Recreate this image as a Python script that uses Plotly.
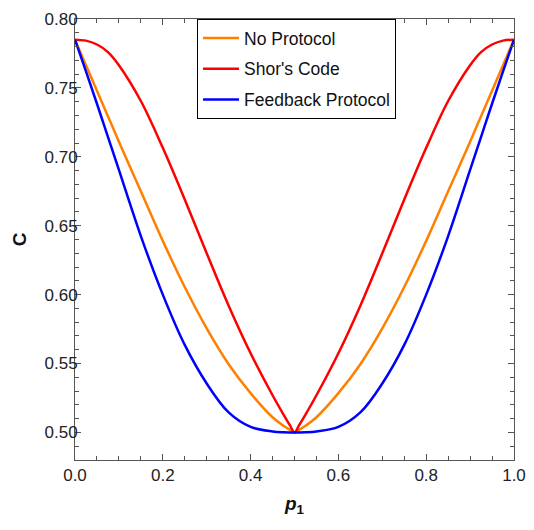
import plotly.graph_objects as go

p1 = [0, 0.025, 0.05, 0.075, 0.1, 0.15, 0.2, 0.25, 0.3, 0.35, 0.4, 0.45, 0.475, 0.49, 0.5,
      0.51, 0.525, 0.55, 0.6, 0.65, 0.7, 0.75, 0.8, 0.85, 0.9, 0.925, 0.95, 0.975, 1.0]

no_protocol = [0.785, 0.7665, 0.748, 0.7295, 0.711, 0.675, 0.639, 0.6055, 0.5755, 0.5495, 0.5285, 0.511, 0.5048, 0.5018, 0.500,
               0.5018, 0.5048, 0.511, 0.5285, 0.5495, 0.5755, 0.6055, 0.639, 0.675, 0.711, 0.7295, 0.748, 0.7665, 0.785]
shors_code = [0.785, 0.7843, 0.7815, 0.776, 0.7665, 0.7405, 0.7065, 0.669, 0.630, 0.592, 0.5575, 0.527, 0.513, 0.505, 0.500,
              0.505, 0.513, 0.527, 0.5575, 0.592, 0.630, 0.669, 0.7065, 0.7405, 0.7665, 0.776, 0.7815, 0.7843, 0.785]
feedback = [0.785, 0.762, 0.7385, 0.7145, 0.6905, 0.6425, 0.600, 0.5635, 0.5355, 0.5145, 0.504, 0.5007, 0.5001, 0.500, 0.500,
            0.500, 0.5001, 0.5007, 0.504, 0.5145, 0.5355, 0.5635, 0.600, 0.6425, 0.6905, 0.7145, 0.7385, 0.762, 0.785]

series = [
    ("No Protocol", no_protocol, "#FF8000"),
    ("Shor's Code", shors_code, "#FF0000"),
    ("Feedback Protocol", feedback, "#0000FF"),
]

x_ticks = [0.0, 0.2, 0.4, 0.6, 0.8, 1.0]
y_ticks = [0.50, 0.55, 0.60, 0.65, 0.70, 0.75, 0.80]

fig = go.Figure()
for name, vals, col in series:
    fig.add_trace(go.Scatter(
        x=p1, y=vals, name=name, mode="lines", legendgroup=name,
        line=dict(color=col, width=2.5, shape="spline", smoothing=1.0),
    ))

font_family = "Liberation Sans, Arial, sans-serif"
axis_common = dict(
    showline=True, linecolor="#555555", linewidth=1, mirror="allticks",
    ticks="inside", ticklen=6, tickcolor="#555555", tickwidth=1,
    showgrid=False, zeroline=False, ticklabeloverflow="allow", automargin=False,
    tickfont=dict(family=font_family, size=17, color="#222222"),
)

fig.update_layout(
    width=518, height=514,
    margin=dict(l=67, r=12, t=11, b=62),
    paper_bgcolor="white", plot_bgcolor="white",
    font=dict(family=font_family, color="#111111"),
    xaxis=dict(
        range=[0, 1], tickvals=x_ticks, tickformat=".1f",
        minor=dict(dtick=0.05, ticks="inside", ticklen=4, tickcolor="#555555"),
        title=dict(text="<b><i>p</i><sub>1</sub></b>", font=dict(size=19, family=font_family), standoff=12),
        **axis_common,
    ),
    yaxis=dict(
        range=[0.48, 0.80], tickvals=y_ticks, tickformat=".2f",
        minor=dict(dtick=0.01, ticks="inside", ticklen=4, tickcolor="#555555"),
        ticklabelstandoff=-7,
        title=dict(text="<b>C</b>", font=dict(size=19, family=font_family), standoff=12),
        **axis_common,
    ),
    legend=dict(
        x=0.278, y=1.0, xanchor="left", yanchor="top",
        bordercolor="#000000", borderwidth=1, bgcolor="white",
        font=dict(family=font_family, size=17.5, color="#111111"),
        traceorder="grouped", tracegroupgap=5, itemwidth=36,
    ),
)

fig.write_html("out.html")
